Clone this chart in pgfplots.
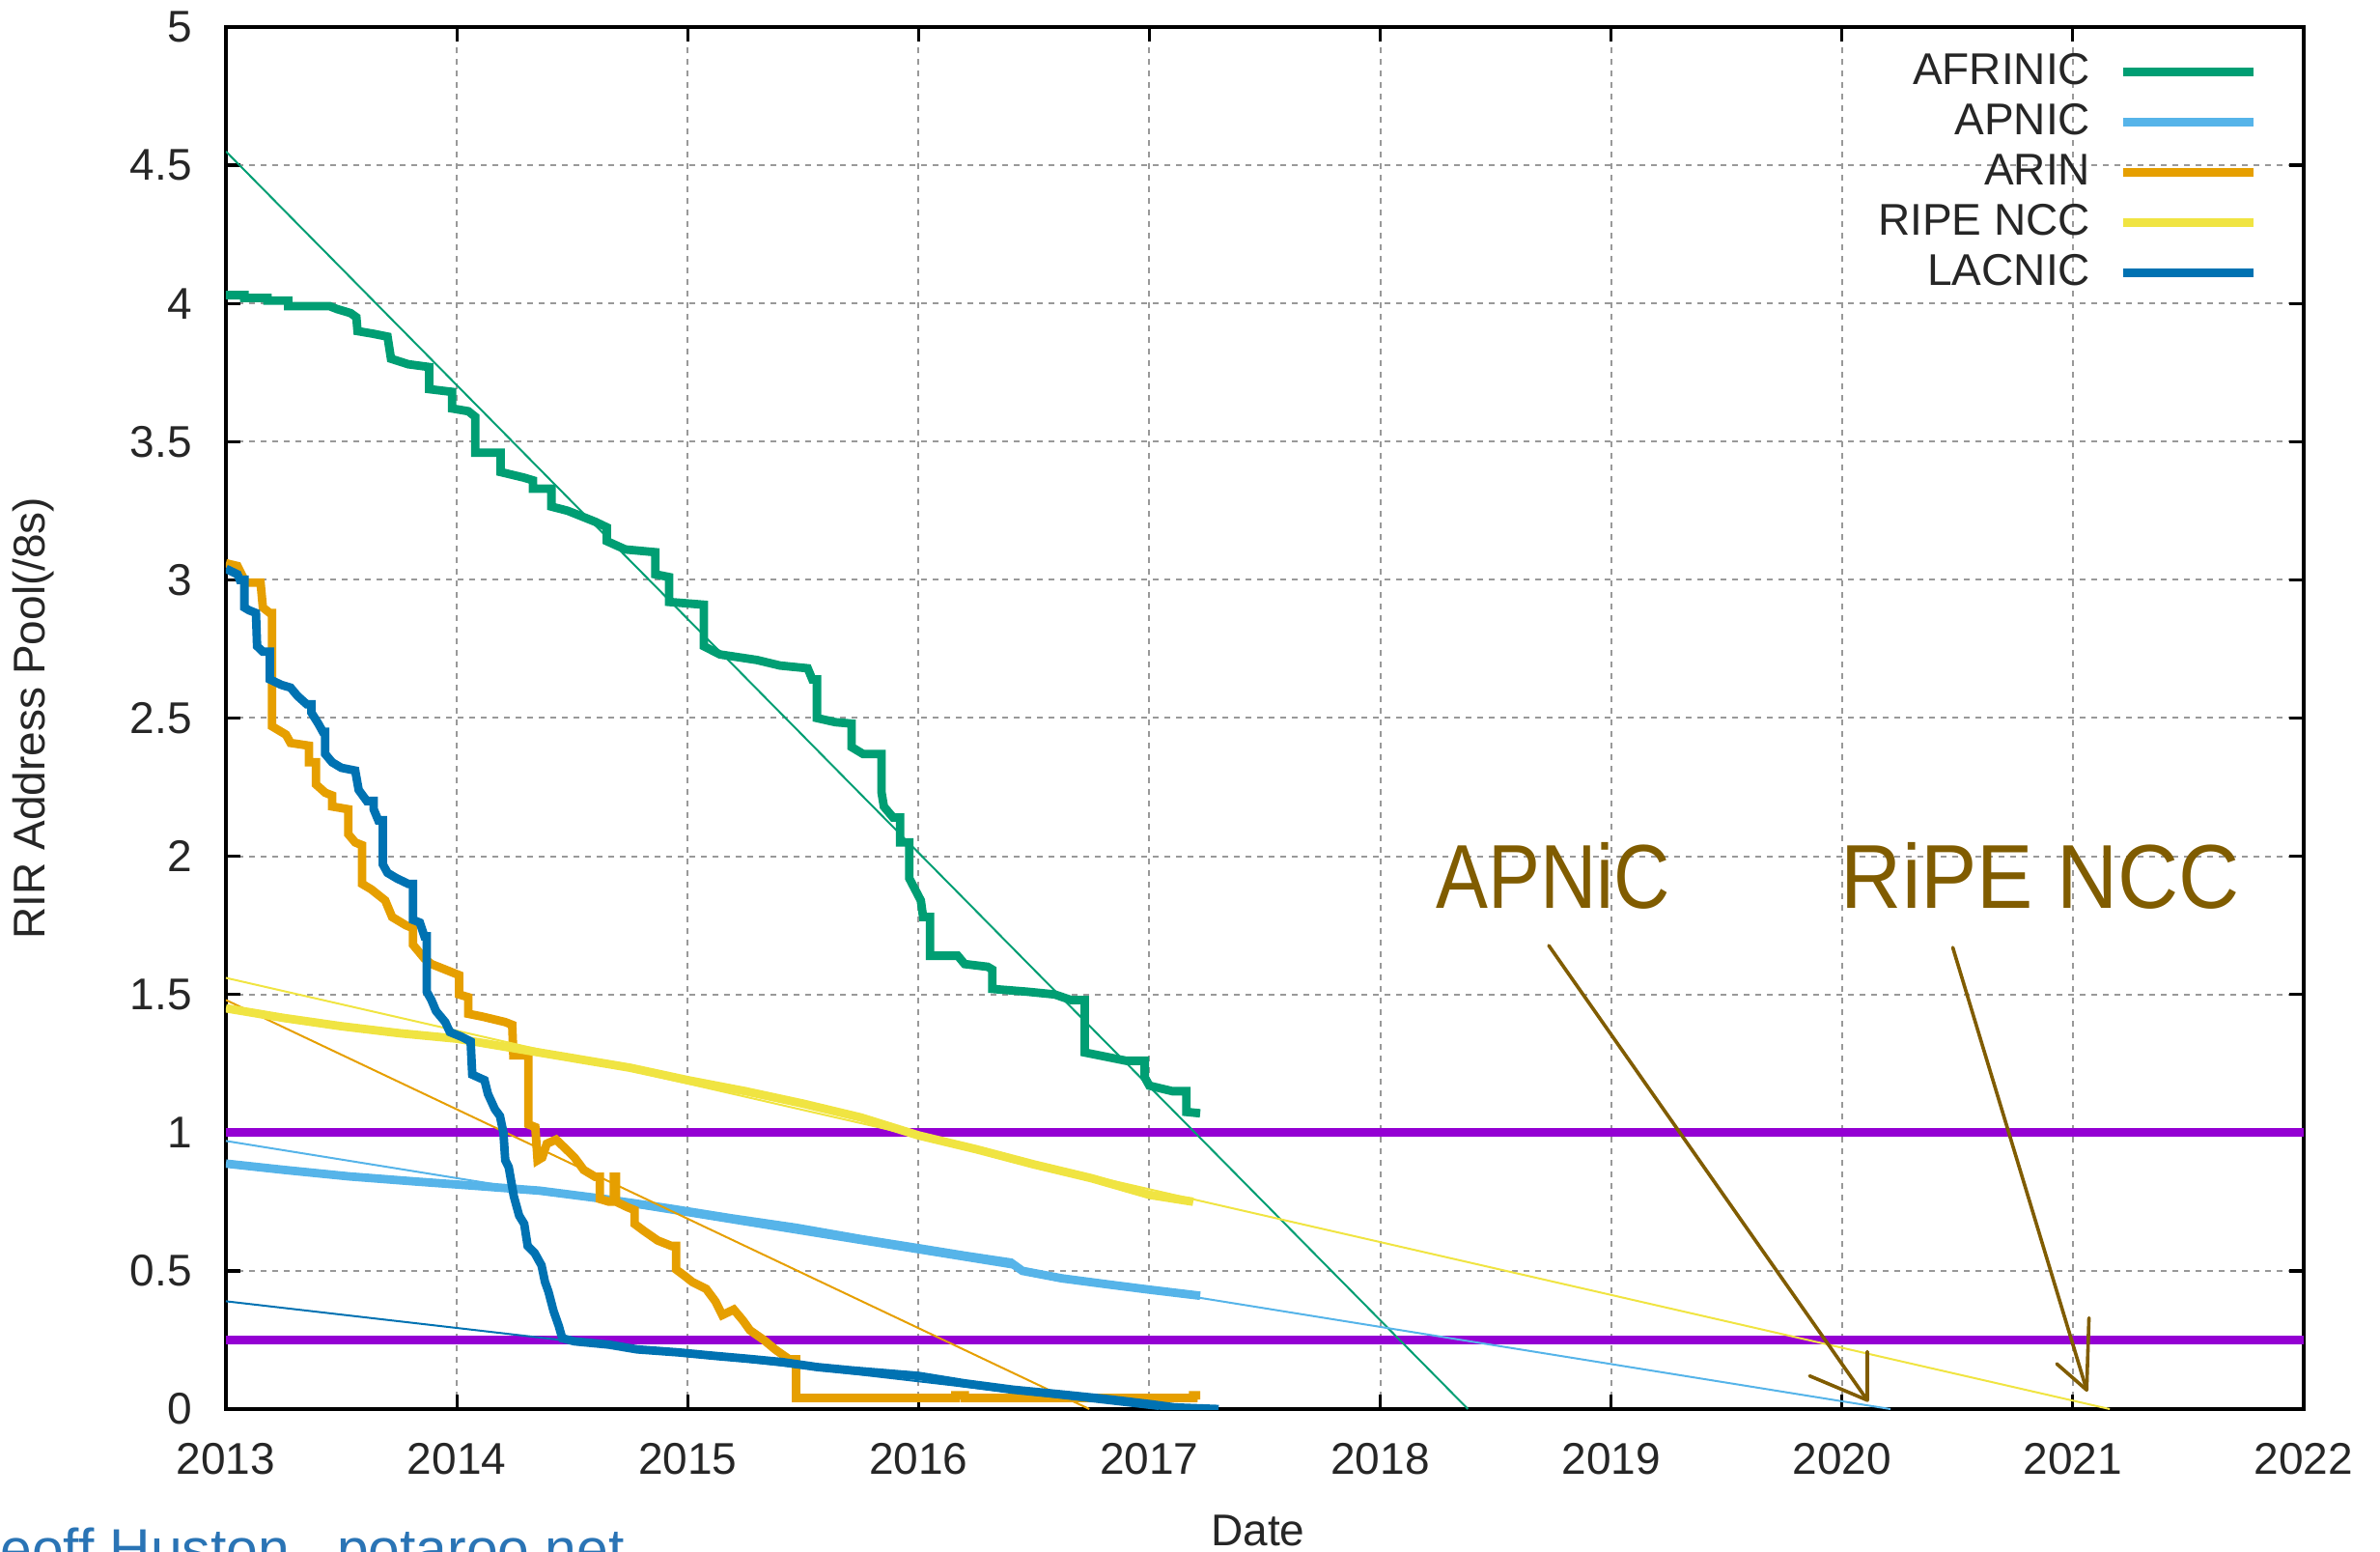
\documentclass[border=0pt]{standalone}
\usepackage{pgfplots}
\pgfplotsset{compat=1.18}
\usepackage{fontspec}
\setmainfont{Liberation Sans}
\definecolor{cAF}{HTML}{009E73}
\definecolor{cAP}{HTML}{56B4E9}
\definecolor{cAR}{HTML}{E69F00}
\definecolor{cRI}{HTML}{F0E442}
\definecolor{cLA}{HTML}{0072B2}
\definecolor{cPU}{HTML}{9400D3}
\definecolor{cBR}{RGB}{128,92,0}
\definecolor{cCR}{HTML}{2A74B5}
\begin{document}
\begin{tikzpicture}
\useasboundingbox (-58.5pt,-37pt) rectangle (557.75pt,364.75pt);
\begin{axis}[
  at={(0pt,0pt)}, anchor=south west,
  scale only axis, width=538pt, height=357.75pt,
  xmin=2013, xmax=2022, ymin=0, ymax=5,
  xtick={2013,2014,2015,2016,2017,2018,2019,2020,2021,2022},
  ytick={0,0.5,1,1.5,2,2.5,3,3.5,4,4.5,5},
  /pgf/number format/assume math mode=true,
  /pgf/number format/1000 sep={},
  font=\fontsize{11.5}{13}\selectfont,
  tick label style={text=black!85, font=\fontsize{11.5}{13}\selectfont},
  yticklabel style={inner sep=0pt, xshift=-8.6pt},
  xticklabel style={inner sep=0pt, yshift=-8.6pt},
  grid=major,
  major grid style={black!40, line width=0.5pt, dash pattern=on 1.5pt off 1.5pt},
  axis line style={line width=0.8pt, black},
  major tick length=3.75pt,
  every tick/.style={black, line width=0.8pt},
  tick align=inside,
  xlabel={Date},
  xlabel style={at={(axis description cs:0.4967,-0.0881)}, anchor=center, inner sep=0pt, text=black!85},
  ylabel={RIR Address Pool(/8s)},
  ylabel style={at={(axis description cs:-0.0927,0.5)}, anchor=center, inner sep=0pt, text=black!85},
  legend style={at={(axis description cs:0.9785,0.986)}, anchor=north east, draw=none, fill=none,
    inner sep=0pt, column sep=7.5pt, row sep=0pt,
    nodes={inner sep=0pt, text height=9.75pt, text depth=3.25pt, text=black!85},
    font=\fontsize{11.5}{13}\selectfont},
  legend cell align=right,
  legend plot pos=right,
  legend image code/.code={\draw[#1] (0pt,0pt) -- (33.75pt,0pt);},
]
% threshold lines
\addplot[cPU, line width=2.2pt, forget plot] coordinates {(2013,1) (2022,1)};
\addplot[cPU, line width=2.2pt, forget plot] coordinates {(2013,0.25) (2022,0.25)};

% AFRINIC
\addplot[cAF, line width=2.2pt] coordinates {
(2013.00,4.03)(2013.08,4.03)(2013.08,4.02)(2013.18,4.02)(2013.18,4.01)(2013.27,4.01)(2013.27,3.99)(2013.45,3.99)(2013.48,3.98)(2013.54,3.965)(2013.565,3.95)(2013.57,3.90)(2013.64,3.89)(2013.70,3.88)(2013.715,3.80)(2013.79,3.78)(2013.88,3.77)(2013.88,3.69)(2013.98,3.68)(2013.98,3.62)(2014.05,3.61)(2014.08,3.59)(2014.08,3.46)(2014.19,3.46)(2014.19,3.39)(2014.29,3.37)(2014.33,3.36)(2014.33,3.33)(2014.41,3.33)(2014.41,3.265)(2014.48,3.25)(2014.54,3.23)(2014.60,3.21)(2014.65,3.19)(2014.65,3.14)(2014.73,3.11)(2014.86,3.10)(2014.86,3.02)(2014.92,3.01)(2014.92,2.92)(2015.07,2.91)(2015.07,2.76)(2015.14,2.73)(2015.30,2.71)(2015.40,2.69)(2015.52,2.68)(2015.54,2.64)(2015.56,2.64)(2015.56,2.50)(2015.64,2.485)(2015.71,2.48)(2015.71,2.395)(2015.76,2.37)(2015.84,2.37)(2015.84,2.23)(2015.85,2.18)(2015.89,2.14)(2015.92,2.14)(2015.92,2.05)(2015.96,2.05)(2015.96,1.92)(2016.01,1.84)(2016.02,1.78)(2016.05,1.78)(2016.05,1.64)(2016.17,1.64)(2016.20,1.61)(2016.30,1.60)(2016.32,1.59)(2016.32,1.52)(2016.47,1.51)(2016.59,1.50)(2016.66,1.48)(2016.72,1.48)(2016.72,1.29)(2016.81,1.275)(2016.90,1.26)(2016.98,1.26)(2016.98,1.20)(2017.00,1.17)(2017.10,1.15)(2017.16,1.15)(2017.16,1.075)(2017.22,1.07)
};
\addlegendentry{AFRINIC}
\addplot[cAF, line width=0.5pt, forget plot] coordinates {(2013,4.55) (2018.38,0)};

% APNIC
\addplot[cAP, line width=2.2pt] coordinates {
(2013.00,0.888)(2013.255,0.865)(2013.53,0.842)(2013.81,0.824)(2014.09,0.807)(2014.36,0.79)(2014.64,0.76)(2014.92,0.726)(2015.19,0.69)(2015.47,0.656)(2015.75,0.615)(2016.00,0.582)(2016.20,0.555)(2016.40,0.53)(2016.45,0.50)(2016.62,0.473)(2016.83,0.45)(2017.00,0.432)(2017.22,0.41)
};
\addlegendentry{APNIC}
\addplot[cAP, line width=0.5pt, forget plot] coordinates {(2013,0.97) (2020.21,0)};

% ARIN
\addplot[cAR, line width=2.2pt] coordinates {
(2013.00,3.06)(2013.05,3.05)(2013.08,3.00)(2013.09,2.99)(2013.15,2.99)(2013.16,2.90)(2013.19,2.88)(2013.20,2.88)(2013.20,2.47)(2013.22,2.46)(2013.26,2.44)(2013.28,2.41)(2013.36,2.40)(2013.36,2.34)(2013.39,2.34)(2013.39,2.26)(2013.43,2.23)(2013.46,2.22)(2013.46,2.18)(2013.53,2.17)(2013.53,2.08)(2013.56,2.05)(2013.59,2.04)(2013.59,1.90)(2013.63,1.88)(2013.69,1.84)(2013.72,1.78)(2013.78,1.75)(2013.81,1.74)(2013.81,1.68)(2013.86,1.63)(2013.89,1.61)(2013.98,1.58)(2014.01,1.57)(2014.01,1.50)(2014.05,1.49)(2014.05,1.43)(2014.11,1.42)(2014.21,1.40)(2014.24,1.39)(2014.245,1.28)(2014.31,1.28)(2014.31,1.03)(2014.34,1.02)(2014.35,0.90)(2014.37,0.91)(2014.39,0.96)(2014.43,0.975)(2014.48,0.935)(2014.51,0.91)(2014.55,0.865)(2014.60,0.84)(2014.62,0.84)(2014.62,0.76)(2014.66,0.75)(2014.68,0.75)(2014.68,0.84)(2014.69,0.84)(2014.69,0.75)(2014.74,0.73)(2014.77,0.72)(2014.77,0.67)(2014.81,0.645)(2014.87,0.61)(2014.93,0.59)(2014.95,0.59)(2014.95,0.505)(2014.99,0.48)(2015.02,0.46)(2015.08,0.435)(2015.12,0.39)(2015.15,0.34)(2015.20,0.36)(2015.24,0.32)(2015.27,0.285)(2015.33,0.25)(2015.38,0.215)(2015.44,0.18)(2015.47,0.18)(2015.47,0.04)(2016.16,0.04)(2016.16,0.05)(2016.20,0.05)(2016.20,0.04)(2017.19,0.04)(2017.19,0.05)(2017.22,0.05)
};
\addlegendentry{ARIN}
\addplot[cAR, line width=0.5pt, forget plot] coordinates {(2013,1.48) (2016.74,0)};

% RIPE NCC
\addplot[cRI, line width=2.2pt] coordinates {
(2013.00,1.45)(2013.25,1.415)(2013.50,1.385)(2013.75,1.36)(2014.00,1.34)(2014.25,1.305)(2014.50,1.27)(2014.75,1.235)(2015.00,1.19)(2015.25,1.15)(2015.50,1.105)(2015.75,1.055)(2016.00,0.99)(2016.25,0.94)(2016.50,0.885)(2016.75,0.835)(2017.00,0.775)(2017.19,0.75)
};
\addlegendentry{RIPE NCC}
\addplot[cRI, line width=0.5pt, forget plot] coordinates {(2013,1.56) (2021.16,0)};

% LACNIC
\addplot[cLA, line width=2.2pt] coordinates {
(2013.00,3.04)(2013.05,3.02)(2013.06,3.00)(2013.08,3.00)(2013.08,2.90)(2013.10,2.89)(2013.13,2.88)(2013.135,2.76)(2013.16,2.74)(2013.19,2.74)(2013.19,2.64)(2013.24,2.62)(2013.28,2.61)(2013.31,2.58)(2013.35,2.55)(2013.37,2.55)(2013.37,2.52)(2013.40,2.48)(2013.42,2.45)(2013.43,2.45)(2013.43,2.37)(2013.46,2.34)(2013.50,2.32)(2013.56,2.31)(2013.575,2.24)(2013.61,2.20)(2013.64,2.20)(2013.64,2.17)(2013.66,2.13)(2013.68,2.13)(2013.68,1.97)(2013.70,1.94)(2013.74,1.92)(2013.79,1.90)(2013.81,1.90)(2013.81,1.77)(2013.84,1.76)(2013.86,1.71)(2013.87,1.71)(2013.87,1.51)(2013.89,1.48)(2013.91,1.44)(2013.95,1.40)(2013.97,1.364)(2014.02,1.347)(2014.06,1.33)(2014.067,1.21)(2014.12,1.19)(2014.135,1.14)(2014.165,1.085)(2014.187,1.06)(2014.202,1.00)(2014.21,0.90)(2014.225,0.875)(2014.247,0.77)(2014.27,0.70)(2014.292,0.67)(2014.307,0.59)(2014.337,0.565)(2014.367,0.52)(2014.382,0.46)(2014.397,0.425)(2014.419,0.355)(2014.442,0.30)(2014.457,0.256)(2014.51,0.245)(2014.66,0.233)(2014.78,0.216)(2014.96,0.205)(2015.11,0.193)(2015.26,0.182)(2015.41,0.17)(2015.56,0.152)(2015.71,0.14)(2016.00,0.12)(2016.20,0.093)(2016.41,0.07)(2016.62,0.053)(2016.83,0.035)(2017.00,0.018)(2017.11,0.006)(2017.30,0.0)
};
\addlegendentry{LACNIC}
\addplot[cLA, line width=0.5pt, forget plot] coordinates {(2013,0.39) (2017.04,0)};

% annotations
\node[text=cBR, font=\fontsize{23.5}{26}\selectfont, xscale=0.86, inner sep=0pt] at (axis cs:2018.75,1.93) {APNiC};
\node[text=cBR, font=\fontsize{23.5}{26}\selectfont, xscale=0.93, inner sep=0pt] at (axis cs:2020.86,1.93) {RiPE NCC};
\draw[cBR, line width=0.9pt, line cap=round] (axis cs:2018.73,1.677) -- (axis cs:2020.11,0.032);
\draw[cBR, line width=0.9pt, line cap=round, line join=round] (axis cs:2019.86,0.12) -- (axis cs:2020.11,0.032) -- (axis cs:2020.11,0.208);
\draw[cBR, line width=0.9pt, line cap=round] (axis cs:2020.48,1.67) -- (axis cs:2021.06,0.069);
\draw[cBR, line width=0.9pt, line cap=round, line join=round] (axis cs:2020.93,0.164) -- (axis cs:2021.06,0.069) -- (axis cs:2021.07,0.33);
\end{axis}
\node[anchor=base west, inner sep=0pt, text=cCR, font=\fontsize{14.7}{16}\selectfont] at (-70pt,-41.5pt) {Geoff Huston,\ \ potaroo.net};
\end{tikzpicture}
\end{document}
